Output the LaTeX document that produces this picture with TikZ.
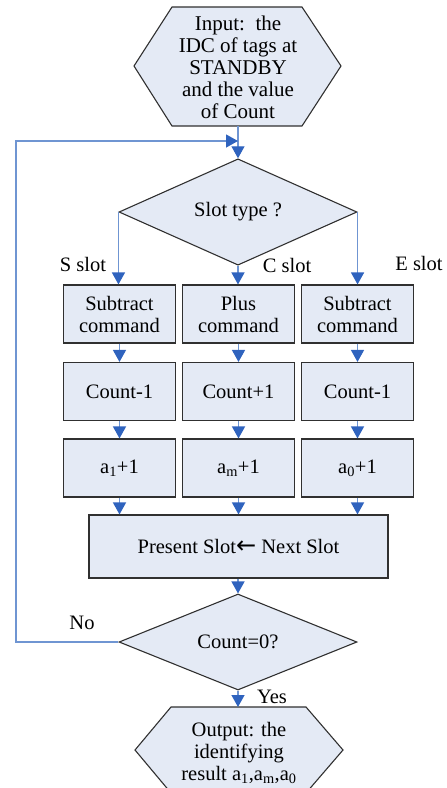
\documentclass[tikz,border=0pt]{standalone}
\usepackage{fontspec}
\setmainfont{Liberation Serif}
\newfontfamily\arrowfont{DejaVu Sans}
\usetikzlibrary{arrows.meta,shapes.geometric}
\definecolor{boxfill}{HTML}{E4EAF5}
\definecolor{linkblue}{HTML}{6F95D2}
\definecolor{tipblue}{HTML}{2F63BE}
\definecolor{edge}{HTML}{303030}
\tikzset{
  x=1pt,y=-1pt,
  every node/.style={font=\fontsize{20.5}{22}\selectfont},
  proc/.style={draw=edge,line width=1.1pt,fill=boxfill,minimum width=112pt,minimum height=58pt,inner sep=0pt,align=center},
  decide/.style={draw=edge,line width=1.1pt,fill=boxfill,diamond,minimum width=238pt,minimum height=96pt,inner sep=0pt,align=center},
  hexa/.style={draw=edge,line width=1.1pt,fill=boxfill},
  link/.style={draw=linkblue,line width=1.3pt},
  arr/.style={link,-{Triangle[length=12pt,width=13pt,color=tipblue]}},
  lbl/.style={inner sep=0pt}
}
\begin{document}
\begin{tikzpicture}
\useasboundingbox (0,0) rectangle (447,788);
% input hexagon
\draw[hexa] (134,66) -- (172,7) -- (302,7) -- (341,66) -- (302,126) -- (172,126) -- cycle;
\node[align=center,font=\fontsize{21}{22}\selectfont] (in) at (238,67) {Input:\ \ the\\IDC of tags at\\STANDBY\\and the value\\of Count};
\coordinate (inb) at (238,126);
\coordinate (join) at (238,141);
% decision 1
\node[decide] (d1) at (238,212) {Slot type ?};
% row 1
\node[proc] (s1) at (119.5,314) {Subtract\\command};
\node[proc] (c1) at (238.5,314) {Plus\\command};
\node[proc] (e1) at (357.5,314) {Subtract\\command};
% row 2
\node[proc] (s2) at (119.5,391.5) {Count-1};
\node[proc] (c2) at (238.5,391.5) {Count+1};
\node[proc] (e2) at (357.5,391.5) {Count-1};
% row 3
\node[proc] (s3) at (119.5,468) {a\textsubscript{1}+1};
\node[proc] (c3) at (238.5,468) {a\textsubscript{m}+1};
\node[proc] (e3) at (357.5,468) {a\textsubscript{0}+1};
% big box
\node[proc,minimum width=299pt,minimum height=63pt] (ps) at (238.5,546.5) {Present Slot{\arrowfont\fontsize{24}{22}\selectfont ←}\ Next Slot};
% decision 2
\node[decide] (d2) at (238,642) {Count=0?};
% output hexagon
\draw[hexa] (135,750) -- (171,707) -- (306,707) -- (343,750) -- (306,793) -- (171,793) -- cycle;
\node[align=center] (out) at (239,753) {Output: the\\identifying\\result a\textsubscript{1},a\textsubscript{m},a\textsubscript{0}};
\coordinate (outt) at (238,707);
\coordinate (loopl) at (16,642);
\coordinate (loopt) at (16,141);
% connectors
\draw[link] (inb) -- (join);
\draw[arr] (join) -- (d1.north);
\draw[arr] (d1.west) -- (s1.north -| d1.west);
\draw[arr] (d1.south) -- (c1.north -| d1.south);
\draw[arr] (d1.east) -- (e1.north -| d1.east);
\draw[arr] (s1) -- (s2);
\draw[arr] (c1) -- (c2);
\draw[arr] (e1) -- (e2);
\draw[arr] (s2) -- (s3);
\draw[arr] (c2) -- (c3);
\draw[arr] (e2) -- (e3);
\draw[arr] (s3.south) -- (ps.north -| s3.south);
\draw[arr] (c3.south) -- (ps.north -| c3.south);
\draw[arr] (e3.south) -- (ps.north -| e3.south);
\draw[arr] (ps.south -| d2.north) -- (d2.north);
\draw[arr] (d2.south) -- (outt);
\draw[arr] (d2.west) -- (loopl) -- (loopt) -- (join);
% labels
\node[lbl] (ls) at (83,264) {S slot};
\node[lbl] (lc) at (287,265) {C slot};
\node[lbl] (le) at (419,263) {E slot};
\node[lbl] (lno) at (82,623) {No};
\node[lbl] (lyes) at (272,697) {Yes};
\end{tikzpicture}
\end{document}
